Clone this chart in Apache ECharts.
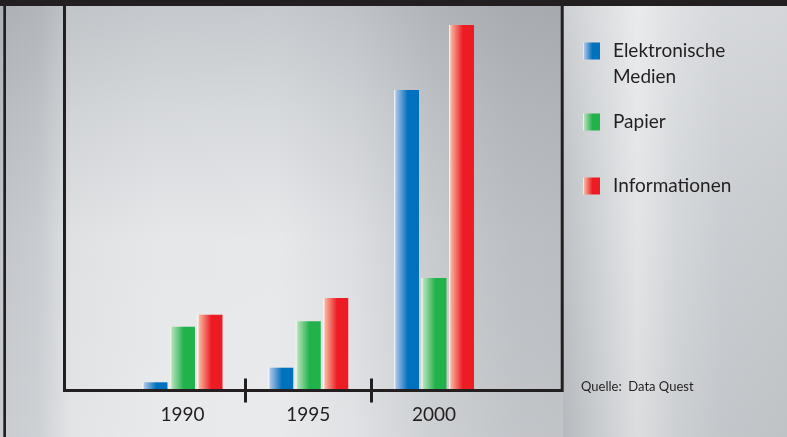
<!DOCTYPE html>
<html>
<head>
<meta charset="utf-8">
<script src="https://cdn.jsdelivr.net/npm/echarts@6/dist/echarts.min.js"></script>
<style>
html, body { margin: 0; padding: 0; }
#c {
  width: 787px; height: 437px;
  background:
    linear-gradient(180deg, rgba(120,126,134,0.30) 0%, rgba(120,126,134,0.14) 25%, rgba(255,255,255,0) 55%, rgba(255,255,255,0.10) 100%) 0 0 / 563px 100% no-repeat,
    linear-gradient(180deg, rgba(255,255,255,0.25) 0%, rgba(255,255,255,0.05) 45%, rgba(0,0,0,0.03) 100%) 563px 0 / 224px 100% no-repeat,
    linear-gradient(90deg, #c3c6ca 0%, #c9ccd0 5%, #dfe1e3 9%, #e5e7e9 20%, #e6e8ea 35%, #dcdee1 45%, #c8cbce 55%, #bcbfc3 65%, #babdc1 71%, #cfd2d5 76%, #e3e4e6 81%, #d3d6d9 86%, #c9ccd0 92%, #c6c9cc 100%);
}
</style>
</head>
<body>
<div id="c"></div>
<script>
// ---- data ----
const categories = ['1990', '1995', '2000'];
const seriesNames = ['Elektronische Medien', 'Papier', 'Informationen'];
const elektronischeMedien = [0.67, 2.13, 29.9];
const papier = [6.23, 6.77, 11.1];
const informationen = [7.43, 9.1, 36.4];
const yMax = 38.9;
const boundaryTicks = [1, 2];   // category boundaries between 1990|1995 and 1995|2000
const sourceText = 'Quelle:  Data Quest';

// ---- styles ----
const ink = '#231f20';
const font = 'Lato';
function grad(light, col) {
  return new echarts.graphic.LinearGradient(0, 0, 1, 0, [
    { offset: 0, color: '#ffffff' },
    { offset: 0.08, color: light },
    { offset: 0.55, color: col },
    { offset: 1, color: col }
  ]);
}
const colors = [grad('#a9c2e6', '#0071bc'), grad('#b2dfb6', '#22b24c'), grad('#f6b39c', '#ed1c24')];
const values = [elektronischeMedien, papier, informationen];

const chart = echarts.init(document.getElementById('c'), null, { renderer: 'canvas' });

function legendFor(i, top, text) {
  return {
    data: [seriesNames[i]],
    left: 583, top: top, orient: 'vertical', padding: 0,
    itemWidth: 17, itemHeight: 17, icon: 'rect', selectedMode: false,
    formatter: function () { return text; },
    textStyle: { fontFamily: font, fontSize: 19, color: ink, lineHeight: 26, padding: [0, 0, 0, 8] }
  };
}

const option = {
  animation: false,
  backgroundColor: 'transparent',
  title: {
    text: sourceText, left: 581, top: 379, padding: 0,
    textStyle: { fontFamily: font, fontSize: 13, fontWeight: 'normal', color: ink, lineHeight: 16 }
  },
  legend: [
    legendFor(0, 12, ' \nElektronische\nMedien'),
    legendFor(1, 109, 'Papier'),
    legendFor(2, 173, 'Informationen')
  ],
  grid: [
    { left: 64.5, right: 224.8, top: 0, bottom: 46.5, show: true, borderColor: ink, borderWidth: 3, backgroundColor: 'transparent', containLabel: false, outerBoundsMode: 'none' },
    { left: 119.6, right: 290.1, top: 0, bottom: 48, containLabel: false, outerBoundsMode: 'none' }
  ],
  xAxis: [
    {
      type: 'category', gridIndex: 1, data: categories,
      axisLine: { show: false }, axisTick: { show: false }, splitLine: { show: false },
      axisLabel: { margin: 16, fontFamily: font, fontSize: 19, color: ink, lineHeight: 20 }
    },
    {
      type: 'value', gridIndex: 0, min: -0.438, max: 3.52, position: 'bottom',
      axisLine: { show: false }, axisLabel: { show: false }, splitLine: { show: false },
      axisTick: { show: true, inside: true, length: 12, customValues: boundaryTicks, lineStyle: { color: ink, width: 3 } }
    },
    {
      type: 'value', gridIndex: 0, min: -0.438, max: 3.52, position: 'bottom',
      axisLine: { show: false }, axisLabel: { show: false }, splitLine: { show: false },
      axisTick: { show: true, inside: false, length: 12, customValues: boundaryTicks, lineStyle: { color: ink, width: 3 } }
    }
  ],
  yAxis: [
    { type: 'value', gridIndex: 1, min: 0, max: yMax, show: false },
    { type: 'value', gridIndex: 0, min: 0, max: 1, show: false }
  ],
  graphic: [
    { type: 'rect', z: 100, silent: true, shape: { x: 0, y: 0, width: 787, height: 6 }, style: { fill: ink } },
    { type: 'rect', z: 100, silent: true, shape: { x: 3.3, y: 0, width: 2.7, height: 437 }, style: { fill: ink } }
  ],
  series: values.map(function (v, i) {
    return {
      name: seriesNames[i], type: 'bar', xAxisIndex: 0, yAxisIndex: 0,
      data: v, barWidth: 25, barGap: '10%',
      itemStyle: { color: colors[i] },
      emphasis: { disabled: true }
    };
  })
};
chart.setOption(option);
</script>
</body>
</html>
